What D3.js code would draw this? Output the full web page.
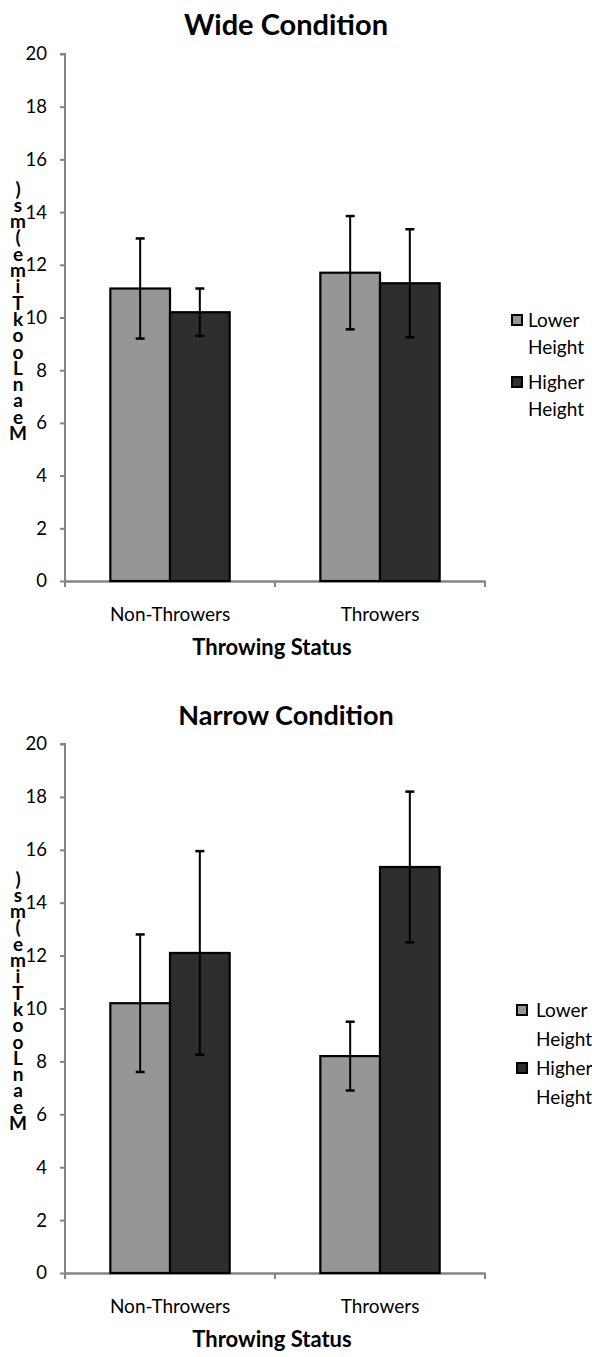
<!DOCTYPE html>
<html>
<head>
<meta charset="utf-8">
<script src="https://cdn.jsdelivr.net/npm/d3@7"></script>
<style>
  body { margin: 0; background: #fff; }
  text { font-family: Lato, "Open Sans", sans-serif; }
</style>
</head>
<body>
<div id="chart"></div>
<script>
// Data
const groups = ["Non-Throwers", "Throwers"];
const seriesNames = ["Lower Height", "Higher Height"];
const yTicks = [0, 2, 4, 6, 8, 10, 12, 14, 16, 18, 20];

const wideLower = [11.1, 11.7];
const wideHigher = [10.2, 11.3];
const wideLowerErr = [1.9, 2.15];
const wideHigherErr = [0.9, 2.05];

const narrowLower = [10.2, 8.2];
const narrowHigher = [12.1, 15.35];
const narrowLowerErr = [2.6, 1.3];
const narrowHigherErr = [3.85, 2.85];

const colors = ["#969696", "#2e2e2e"];

const width = 592, height = 1357;
const svg = d3.select("#chart").append("svg")
    .attr("width", width)
    .attr("height", height);

const drawPanel = (cfg) => {
    const g = svg.append("g");
    const x0 = 65, x1 = 485;

    const y = d3.scaleLinear().domain([0, 20]).range([cfg.yBottom, cfg.yTop]);
    const xScale = d3.scaleBand().domain(groups).range([x0, x1]).paddingInner(0).paddingOuter(0);
    const xSub = d3.scaleBand().domain(seriesNames).range([0, xScale.bandwidth()]).paddingOuter(0.76).paddingInner(0);

    // Title
    g.append("text")
        .attr("x", 286).attr("y", cfg.yTop - 19)
        .attr("text-anchor", "middle")
        .attr("font-size", cfg.titleSize).attr("font-weight", "bold")
        .text(cfg.title);

    // Y axis
    const leftAxis = d3.axisLeft(y).tickValues(yTicks).tickSize(5).tickPadding(13);
    const ya = g.append("g").attr("transform", `translate(${x0},0)`).call(leftAxis);
    ya.selectAll("path, line").attr("stroke", "#858585").attr("stroke-width", 2);
    ya.select(".domain").attr("d", `M-5,${cfg.yTop}H0V${cfg.yBottom}`);
    ya.selectAll("text").attr("font-size", 18.5).attr("fill", "#000")
        .attr("font-family", "Lato, sans-serif");

    // X axis
    const bottomAxis = d3.axisBottom(xScale).tickSize(0).tickPadding(27);
    const xa = g.append("g").attr("transform", `translate(0,${cfg.yBottom})`).call(bottomAxis);
    xa.select(".domain").attr("stroke", "#858585").attr("stroke-width", 2.5);
    xa.selectAll("text").attr("font-size", 19).attr("fill", "#000")
        .attr("font-family", "Lato, sans-serif");
    // group separator ticks
    const edges = [x0, x0 + xScale.bandwidth(), x1];
    g.selectAll(".xtick").data(edges).enter().append("line")
        .attr("x1", d => d).attr("x2", d => d)
        .attr("y1", cfg.yBottom).attr("y2", cfg.yBottom + 6)
        .attr("stroke", "#858585").attr("stroke-width", 2);

    // X axis title
    g.append("text")
        .attr("x", 272).attr("y", cfg.yBottom + 74)
        .attr("text-anchor", "middle")
        .attr("font-size", 22).attr("font-weight", "bold")
        .text("Throwing Status");

    // Y axis title (stacked characters, as in the source)
    const label = "Mean Look Time (ms)".replace(/ /g, "").split("");
    g.selectAll(".ych").data(label).enter().append("text")
        .attr("x", 18)
        .attr("y", (d, i) => cfg.yTop + 386 - i * 16.3)
        .attr("text-anchor", "middle")
        .attr("font-size", 19).attr("font-weight", "bold")
        .text(d => d);

    // Bars
    const rows = [];
    groups.forEach((grp, i) => {
        rows.push({ grp, s: seriesNames[0], v: cfg.lower[i], e: cfg.lowerErr[i], c: colors[0] });
        rows.push({ grp, s: seriesNames[1], v: cfg.higher[i], e: cfg.higherErr[i], c: colors[1] });
    });

    g.selectAll(".bar").data(rows).enter().append("rect")
        .attr("x", d => xScale(d.grp) + xSub(d.s))
        .attr("y", d => y(d.v))
        .attr("width", xSub.bandwidth())
        .attr("height", d => y(0) - y(d.v))
        .attr("fill", d => d.c)
        .attr("stroke", "#000").attr("stroke-width", 2.2);

    // Error bars
    const eb = g.selectAll(".err").data(rows).enter().append("g")
        .attr("transform", d => `translate(${xScale(d.grp) + xSub(d.s) + xSub.bandwidth() / 2},0)`);
    eb.append("line")
        .attr("y1", d => y(d.v + d.e)).attr("y2", d => y(d.v - d.e))
        .attr("stroke", "#000").attr("stroke-width", 2);
    eb.append("line")
        .attr("x1", -4.5).attr("x2", 4.5)
        .attr("y1", d => y(d.v + d.e)).attr("y2", d => y(d.v + d.e))
        .attr("stroke", "#000").attr("stroke-width", 2.5);
    eb.append("line")
        .attr("x1", -4.5).attr("x2", 4.5)
        .attr("y1", d => y(d.v - d.e)).attr("y2", d => y(d.v - d.e))
        .attr("stroke", "#000").attr("stroke-width", 2.5);

    // Legend
    const leg = g.append("g").attr("transform", `translate(${cfg.legX},${cfg.legY})`);
    seriesNames.forEach((name, i) => {
        const words = name.split(" ");
        const item = leg.append("g").attr("transform", `translate(0,${i * cfg.legStep})`);
        item.append("rect")
            .attr("x", 0).attr("y", -12).attr("width", 10).attr("height", 10)
            .attr("fill", colors[i]).attr("stroke", "#000").attr("stroke-width", 2);
        item.append("text").attr("x", cfg.legText).attr("y", 0)
            .attr("font-size", 19).text(words[0]);
        item.append("text").attr("x", cfg.legText).attr("y", cfg.legLine)
            .attr("font-size", 19).text(words[1]);
    });
};

drawPanel({
    title: "Wide Condition", titleSize: 29,
    yTop: 54, yBottom: 581,
    lower: wideLower, higher: wideHigher,
    lowerErr: wideLowerErr, higherErr: wideHigherErr,
    legX: 512, legY: 327, legStep: 62, legLine: 27, legText: 16
});

drawPanel({
    title: "Narrow Condition", titleSize: 27,
    yTop: 744, yBottom: 1273,
    lower: narrowLower, higher: narrowHigher,
    lowerErr: narrowLowerErr, higherErr: narrowHigherErr,
    legX: 517, legY: 1017, legStep: 58, legLine: 29, legText: 19
});
</script>
</body>
</html>
